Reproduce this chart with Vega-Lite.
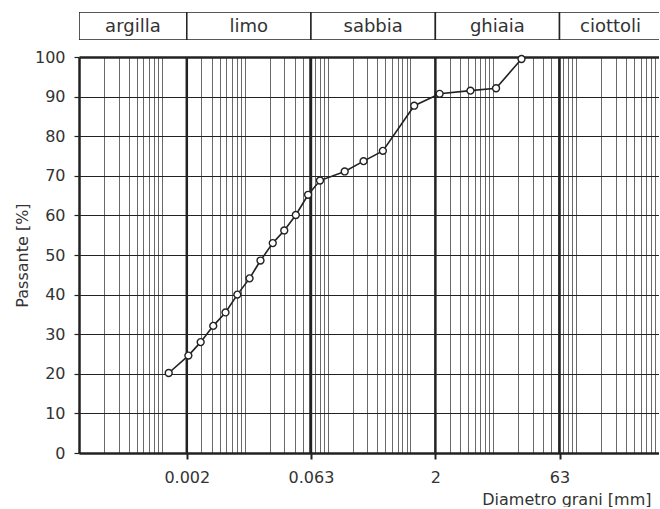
{
  "$schema": "https://vega.github.io/schema/vega-lite/v6.json",
  "background": "white",
  "padding": {"left": 14, "top": 12, "right": 0, "bottom": 0},
  "spacing": 17,
  "bounds": "flush",
  "config": {"view": {"stroke": null}, "font": "DejaVu Sans"},
  "datasets": {
    "classes": [
      {"classe": "argilla", "lo": 0.0001, "hi": 0.002, "mid": 0.000447},
      {"classe": "limo", "lo": 0.002, "hi": 0.063, "mid": 0.0112},
      {"classe": "sabbia", "lo": 0.063, "hi": 2, "mid": 0.355},
      {"classe": "ghiaia", "lo": 2, "hi": 63, "mid": 11.2},
      {"classe": "ciottoli", "lo": 63, "hi": 2000, "mid": 260}
    ],
    "limiti": [{"d": 0.002}, {"d": 0.063}, {"d": 2}, {"d": 63}],
    "curva": [
      {"diametro": 0.00121, "passante": 20.2},
      {"diametro": 0.00209, "passante": 24.6},
      {"diametro": 0.00294, "passante": 28.0},
      {"diametro": 0.00417, "passante": 32.1},
      {"diametro": 0.00586, "passante": 35.5},
      {"diametro": 0.00815, "passante": 40.0},
      {"diametro": 0.01144, "passante": 44.1},
      {"diametro": 0.0155, "passante": 48.6},
      {"diametro": 0.0218, "passante": 53.0},
      {"diametro": 0.0300, "passante": 56.2},
      {"diametro": 0.0414, "passante": 60.1},
      {"diametro": 0.0582, "passante": 65.2},
      {"diametro": 0.0810, "passante": 68.8},
      {"diametro": 0.161, "passante": 71.1},
      {"diametro": 0.272, "passante": 73.7},
      {"diametro": 0.465, "passante": 76.3},
      {"diametro": 1.11, "passante": 87.7},
      {"diametro": 2.25, "passante": 90.7},
      {"diametro": 5.30, "passante": 91.5},
      {"diametro": 10.8, "passante": 92.1},
      {"diametro": 21.9, "passante": 99.5}
    ]
  },
  "vconcat": [
    {
      "width": 580,
      "height": 28,
      "data": {"name": "classes"},
      "layer": [
        {
          "mark": {"type": "rect", "fill": "white", "stroke": "#222", "strokeWidth": 1.5, "clip": true},
          "encoding": {
            "x": {"field": "lo", "type": "quantitative", "scale": {"type": "log", "domain": [0.0001, 1000]}, "axis": null},
            "x2": {"field": "hi"}
          }
        },
        {
          "mark": {"type": "text", "fontSize": 18, "color": "#333", "dy": 1},
          "encoding": {
            "x": {"field": "mid", "type": "quantitative", "scale": {"type": "log", "domain": [0.0001, 1000]}, "axis": null},
            "text": {"field": "classe"}
          }
        }
      ]
    },
    {
      "width": 580,
      "height": 396,
      "resolve": {"axis": {"x": "independent"}},
      "layer": [
        {
          "data": {"name": "limiti"},
          "mark": {"type": "rule", "color": "#222", "strokeWidth": 2.5},
          "encoding": {
            "x": {"field": "d", "type": "quantitative",
              "scale": {"type": "log", "domain": [0.0001, 1000]},
              "axis": {
                "orient": "bottom", "values": [0.002, 0.063, 2, 63], "format": "~g",
                "grid": false, "ticks": true, "tickSize": 6, "tickWidth": 2, "tickColor": "#222",
                "domain": true, "domainWidth": 2.5, "domainColor": "#222",
                "labelFontSize": 16, "labelColor": "#333", "labelPadding": 10, "labelFlush": false,
                "title": "Diametro grani [mm]", "titleFontSize": 16, "titleFontWeight": "normal", "titleColor": "#333",
                "titleAlign": "right", "titleX": 572, "titleY": 51, "titleBaseline": "alphabetic"
              }}
          }
        },
        {
          "data": {"name": "curva"},
          "mark": {"type": "line", "color": "#222", "strokeWidth": 1.6,
            "point": {"filled": true, "fill": "white", "stroke": "#222", "strokeWidth": 1.4, "size": 48, "opacity": 1}},
          "encoding": {
            "x": {"field": "diametro", "type": "quantitative",
              "scale": {"type": "log", "domain": [0.0001, 1000]},
              "axis": {"orient": "bottom", "grid": true, "ticks": false, "labels": false, "domain": false, "title": null, "gridColor": "#444", "gridWidth": 0.8}},
            "y": {"field": "passante", "type": "quantitative",
              "scale": {"domain": [0, 100]},
              "axis": {
                "values": [0, 10, 20, 30, 40, 50, 60, 70, 80, 90, 100],
                "labelOverlap": false,
                "grid": true, "gridColor": "#222",
                "gridWidth": {"condition": {"test": "datum.value == 100", "value": 2.5}, "value": 1.1},
                "tickSize": 5, "tickColor": "#222", "tickWidth": 1.2,
                "domainColor": "#222", "domainWidth": 2.5,
                "labelFontSize": 16, "labelColor": "#333", "labelPadding": 9, "labelFlush": false,
                "title": "Passante [%]", "titleFontSize": 16, "titleFontWeight": "normal", "titleColor": "#333", "titlePadding": 4
              }}
          }
        }
      ]
    }
  ]
}
